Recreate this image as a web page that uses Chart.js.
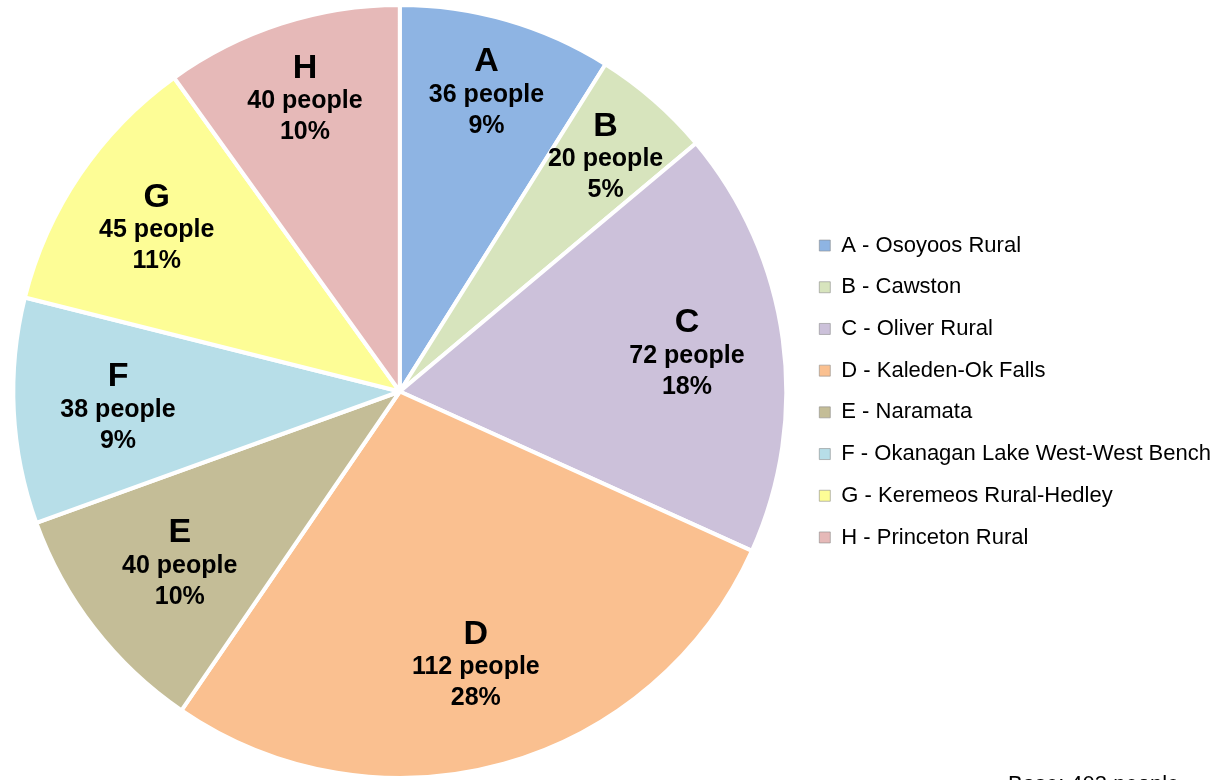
<!DOCTYPE html>
<html lang="en">
<head>
    <meta charset="UTF-8">
    <title>Participants by Electoral Area</title>
    <script src="https://cdn.jsdelivr.net/npm/chart.js"></script>
    <style>
        body { margin: 0; background: white; }
        #pieChart { display: block; }
    </style>
</head>
<body>
    <canvas id="pieChart" width="1225" height="780"></canvas>

    <script>
        const codes = ['A', 'B', 'C', 'D', 'E', 'F', 'G', 'H'];
        const areaNames = ['Osoyoos Rural', 'Cawston', 'Oliver Rural', 'Kaleden-Ok Falls', 'Naramata',
                           'Okanagan Lake West-West Bench', 'Keremeos Rural-Hedley', 'Princeton Rural'];
        const people = [36, 20, 72, 112, 40, 38, 45, 40];
        const colors = ['#8EB4E3', '#D7E4BD', '#CCC1DA', '#FAC090', '#C4BD97', '#B7DEE8', '#FDFD96', '#E6B9B8'];
        const baseNote = 'Base: 403 people';

        // how far out (share of radius) each slice label sits
        const labelRadius = [0.81, 0.81, 0.75, 0.73, 0.72, 0.73, 0.76, 0.80];

        const total = people.reduce((a, b) => a + b, 0);
        const fontFamily = '"Liberation Sans", Arial, sans-serif';

        const sliceLabels = {
            id: 'sliceLabels',
            afterDatasetsDraw(chart) {
                const ctx = chart.ctx;
                const meta = chart.getDatasetMeta(0);
                ctx.save();
                ctx.fillStyle = '#000';
                ctx.textAlign = 'center';
                ctx.textBaseline = 'middle';
                meta.data.forEach((arc, i) => {
                    const p = arc.getProps(['x', 'y', 'startAngle', 'endAngle', 'outerRadius'], true);
                    const mid = (p.startAngle + p.endAngle) / 2;
                    const r = p.outerRadius * labelRadius[i];
                    const cx = p.x + Math.cos(mid) * r;
                    const cy = p.y + Math.sin(mid) * r + 4;
                    ctx.font = 'bold 34px ' + fontFamily;
                    ctx.fillText(codes[i], cx, cy - 33);
                    ctx.font = 'bold 25px ' + fontFamily;
                    ctx.fillText(people[i] + ' people', cx, cy);
                    ctx.fillText(Math.round(people[i] / total * 100) + '%', cx, cy + 31);
                });
                ctx.restore();
            },
            afterDraw(chart) {
                const ctx = chart.ctx;
                ctx.save();
                ctx.fillStyle = '#000';
                ctx.font = '22px ' + fontFamily;
                ctx.textAlign = 'left';
                ctx.textBaseline = 'alphabetic';
                ctx.fillText(baseNote, 1008, 791);
                ctx.restore();
            }
        };

        new Chart(document.getElementById('pieChart'), {
            type: 'pie',
            data: {
                labels: codes.map((c, i) => c + ' - ' + areaNames[i]),
                datasets: [{
                    data: people,
                    backgroundColor: colors,
                    borderColor: '#ffffff',
                    borderWidth: 4
                }]
            },
            options: {
                responsive: false,
                animation: false,
                layout: { padding: { left: -10, right: 4, top: 3, bottom: 0 } },
                plugins: {
                    tooltip: { enabled: false },
                    legend: {
                        position: 'right',
                        labels: {
                            boxWidth: 11,
                            boxHeight: 11,
                            padding: 19.7,
                            color: '#000',
                            font: { family: fontFamily, size: 22 },
                            generateLabels(chart) {
                                const items = Chart.overrides.pie.plugins.legend.labels.generateLabels(chart);
                                return items.map(item => Object.assign(item, { lineWidth: 0.6, strokeStyle: '#8c8c8c' }));
                            }
                        }
                    }
                }
            },
            plugins: [sliceLabels]
        });
    </script>
</body>
</html>
